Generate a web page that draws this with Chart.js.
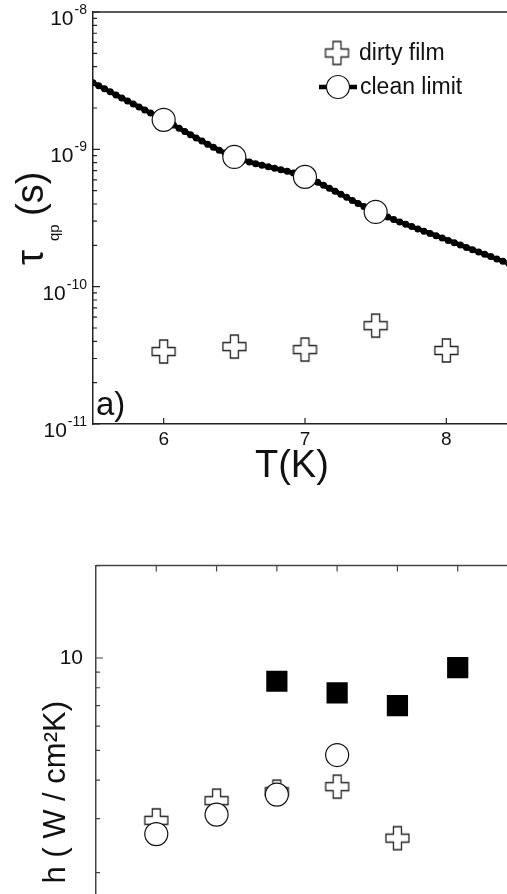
<!DOCTYPE html>
<html>
<head>
<meta charset="utf-8">
<script src="https://cdn.jsdelivr.net/npm/chart.js@4.4.1/dist/chart.umd.min.js"></script>
<style>
  html, body { margin: 0; padding: 0; background: #fff; overflow: hidden; }
  #wrap { position: relative; width: 560px; height: 1100px; overflow: hidden; }
  .box { position: absolute; left: 0; width: 520px; }
  #topBox { top: 0; height: 500px; }
  #botBox { top: 540px; height: 540px; }
</style>
</head>
<body>
<div id="wrap">
  <div class="box" id="topBox"><canvas id="topChart"></canvas></div>
  <div class="box" id="botBox"><canvas id="botChart"></canvas></div>
</div>
<script>
// panel a) : tau_qp against temperature
const tempDirty = [6, 6.5, 7, 7.5, 8];
const tauDirty = [3.37e-11, 3.66e-11, 3.48e-11, 5.2e-11, 3.43e-11];
const tempClean = [6, 6.5, 7, 7.5];
const tauClean = [1.64e-9, 8.8e-10, 6.3e-10, 3.5e-10];
const tempCurve = [5.5, 6, 6.5, 7, 7.5, 8, 8.5];
const tauCurve = [3.05e-9, 1.64e-9, 8.8e-10, 6.3e-10, 3.5e-10, 2.2e-10, 1.4e-10];
const tauTicks = [1e-11, 1e-10, 1e-9, 1e-8];
const tempTicks = [6, 7, 8];

// lower panel : h
const sampleTicks = [1, 2, 3, 4, 5, 6];
const squareIdx = [3, 4, 5, 6];
const hSquares = [8.4, 7.7, 7.0, 9.3];
const circleIdx = [1, 2, 3, 4];
const hCircles = [2.67, 3.09, 3.59, 4.83];
const crossIdx = [1, 2, 3, 4, 5];
const hCrosses = [2.96, 3.43, 3.67, 3.81, 2.59];
const hTicks = [1, 10];

const FONT = '"Liberation Sans", Arial, Helvetica, sans-serif';

function pts(xs, ys) {
  return xs.map((x, i) => ({ x: x, y: ys[i] }));
}

// hollow "plus" marker
function plusImage(size, arm, color) {
  const c = document.createElement('canvas');
  c.width = size + 4; c.height = size + 4;
  const g = c.getContext('2d');
  const m = c.width / 2, h = size / 2, a = arm / 2;
  g.beginPath();
  g.moveTo(m - a, m - h); g.lineTo(m + a, m - h); g.lineTo(m + a, m - a);
  g.lineTo(m + h, m - a); g.lineTo(m + h, m + a); g.lineTo(m + a, m + a);
  g.lineTo(m + a, m + h); g.lineTo(m - a, m + h); g.lineTo(m - a, m + a);
  g.lineTo(m - h, m + a); g.lineTo(m - h, m - a); g.lineTo(m - a, m - a);
  g.closePath();
  g.fillStyle = '#fff'; g.fill();
  g.lineWidth = 1.3; g.strokeStyle = color; g.stroke();
  return c;
}
const plus = plusImage(23, 8, '#222');

// minor ticks of a log axis
function logMinor(scale, fn) {
  const lo = Math.floor(Math.log10(scale.min)), hi = Math.ceil(Math.log10(scale.max));
  for (let k = lo; k <= hi; k++) {
    for (let m = 1; m <= 9; m++) {
      const v = m * Math.pow(10, k);
      if (v < scale.min * 0.999 || v > scale.max * 1.001) continue;
      fn(scale.getPixelForValue(v), m === 1);
    }
  }
}

const topDecor = {
  id: 'topDecor',
  afterDraw(chart) {
    const { ctx, chartArea: a, scales: { x, y } } = chart;
    ctx.save();
    ctx.strokeStyle = '#222';
    ctx.lineWidth = 1.2;
    ctx.beginPath();
    logMinor(y, (py, major) => { ctx.moveTo(a.left, py); ctx.lineTo(a.left + (major ? 7 : 4), py); });
    tempTicks.forEach(t => {
      const px = x.getPixelForValue(t);
      ctx.moveTo(px, a.bottom); ctx.lineTo(px, a.bottom - 6);
    });
    ctx.stroke();
    ctx.lineWidth = 1.5;
    ctx.beginPath(); ctx.moveTo(a.left, a.top); ctx.lineTo(chart.width, a.top); ctx.stroke();

    // y tick labels 10^n with a raised exponent
    ctx.fillStyle = '#111';
    ctx.textAlign = 'right';
    ctx.textBaseline = 'alphabetic';
    tauTicks.forEach(v => {
      const py = y.getPixelForValue(v);
      const e = String(Math.round(Math.log10(v)));
      ctx.font = '14px ' + FONT;
      const we = ctx.measureText(e).width;
      ctx.fillText(e, a.left - 6, py + 2);
      ctx.font = '21px ' + FONT;
      ctx.fillText('10', a.left - 7 - we, py + 13);
    });

    // x title
    ctx.textAlign = 'left';
    ctx.font = '38px ' + FONT;
    ctx.fillText('T(K)', a.left + 162, a.bottom + 53);

    // y title: tau_qp (s)
    ctx.rotate(-Math.PI / 2);
    ctx.font = '38px ' + FONT;
    ctx.fillText('\u03C4', -265, 43);
    ctx.font = '15px ' + FONT;
    ctx.fillText('qp', -241, 59);
    ctx.font = '38px ' + FONT;
    ctx.fillText('(s)', -216, 43);
    ctx.setTransform(1, 0, 0, 1, 0, 0);

    // panel tag
    ctx.font = '33px ' + FONT;
    ctx.fillText('a)', a.left + 3, a.bottom - 9);

    // legend
    const lx = a.left + 244;
    ctx.drawImage(plus, lx - plus.width / 2, 53 - plus.height / 2);
    ctx.font = '23px ' + FONT;
    ctx.textBaseline = 'middle';
    ctx.fillText('dirty film', lx + 22, 54);
    ctx.strokeStyle = '#000';
    ctx.lineWidth = 4.5;
    ctx.beginPath(); ctx.moveTo(lx - 18, 87); ctx.lineTo(lx + 20, 87); ctx.stroke();
    ctx.beginPath(); ctx.arc(lx + 1, 87, 11.5, 0, Math.PI * 2);
    ctx.fillStyle = '#fff'; ctx.fill();
    ctx.lineWidth = 1.2; ctx.strokeStyle = '#111'; ctx.stroke();
    ctx.fillStyle = '#111';
    ctx.fillText('clean limit', lx + 23, 88);
    ctx.restore();
  }
};

new Chart(document.getElementById('topChart'), {
  type: 'scatter',
  data: {
    datasets: [
      { label: 'clean limit', data: pts(tempClean, tauClean), pointStyle: 'circle', pointRadius: 11.5,
        pointBackgroundColor: '#fff', pointBorderColor: '#111', pointBorderWidth: 1.2 },
      { label: 'dirty film', data: pts(tempDirty, tauDirty), pointStyle: plus },
      { label: 'clean limit beads', data: pts(tempCurve, tauCurve), showLine: true, pointRadius: 0,
        borderColor: '#000', borderWidth: 7, borderDash: [0, 6.5], borderCapStyle: 'round',
        cubicInterpolationMode: 'monotone' },
      { label: 'clean limit line', data: pts(tempCurve, tauCurve), showLine: true, pointRadius: 0,
        borderColor: '#000', borderWidth: 4.5, cubicInterpolationMode: 'monotone' }
    ]
  },
  options: {
    responsive: true,
    maintainAspectRatio: false,
    animation: false,
    events: [],
    layout: { autoPadding: false, padding: { top: 12, right: 3, left: 0, bottom: 0 } },
    plugins: { legend: { display: false }, tooltip: { enabled: false } },
    scales: {
      x: {
        type: 'linear', min: 5.5, max: 8.5,
        grid: { display: false, drawTicks: false },
        border: { color: '#222', width: 1.5 },
        afterBuildTicks: s => { s.ticks = tempTicks.map(v => ({ value: v })); },
        afterFit: s => { s.height = 76; },
        ticks: { font: { family: FONT, size: 19 }, color: '#111', padding: 4, maxRotation: 0 }
      },
      y: {
        type: 'logarithmic', min: 1e-11, max: 1e-8,
        grid: { display: false, drawTicks: false },
        border: { color: '#222', width: 1.5 },
        afterBuildTicks: s => { s.ticks = tauTicks.map(v => ({ value: v })); },
        afterFit: s => { s.width = 93; },
        ticks: { display: false }
      }
    }
  },
  plugins: [topDecor]
});

const botDecor = {
  id: 'botDecor',
  afterDraw(chart) {
    const { ctx, chartArea: a, scales: { x, y } } = chart;
    ctx.save();
    ctx.strokeStyle = '#444';
    ctx.lineWidth = 1.2;
    ctx.beginPath();
    logMinor(y, (py, major) => { ctx.moveTo(a.left, py); ctx.lineTo(a.left + (major ? 7 : 4), py); });
    sampleTicks.forEach(t => {
      const px = x.getPixelForValue(t);
      ctx.moveTo(px, a.top); ctx.lineTo(px, a.top + 6);
      ctx.moveTo(px, a.bottom); ctx.lineTo(px, a.bottom - 6);
    });
    ctx.stroke();
    ctx.lineWidth = 1.5;
    ctx.beginPath(); ctx.moveTo(a.left, a.top); ctx.lineTo(chart.width, a.top); ctx.stroke();
    ctx.restore();
  }
};

new Chart(document.getElementById('botChart'), {
  type: 'scatter',
  data: {
    datasets: [
      { label: 'clean limit', data: pts(circleIdx, hCircles), pointStyle: 'circle', pointRadius: 11.5,
        pointBackgroundColor: '#fff', pointBorderColor: '#111', pointBorderWidth: 1.2 },
      { label: 'dirty film', data: pts(crossIdx, hCrosses), pointStyle: plus },
      { label: 'measured', data: pts(squareIdx, hSquares), pointStyle: 'rect', pointRadius: 15,
        pointBackgroundColor: '#000', pointBorderColor: '#000', pointBorderWidth: 0 }
    ]
  },
  options: {
    responsive: true,
    maintainAspectRatio: false,
    animation: false,
    events: [],
    layout: { autoPadding: false, padding: { top: 21, right: 2, left: 0, bottom: 0 } },
    plugins: { legend: { display: false }, tooltip: { enabled: false } },
    scales: {
      x: {
        type: 'linear', min: 0, max: 7,
        grid: { display: false, drawTicks: false },
        border: { color: '#444', width: 1.5 },
        afterBuildTicks: s => { s.ticks = sampleTicks.map(v => ({ value: v })); },
        afterFit: s => { s.height = 61; },
        ticks: { display: false }
      },
      y: {
        type: 'logarithmic', min: 0.667, max: 20,
        grid: { display: false, drawTicks: false },
        border: { color: '#444', width: 1.5 },
        afterBuildTicks: s => { s.ticks = hTicks.map(v => ({ value: v })); },
        afterFit: s => { s.width = 96; },
        ticks: { font: { family: FONT, size: 21 }, color: '#111', padding: 13,
          callback: v => String(Math.round(v)) },
        title: { display: true, text: 'h ( W / cm\u00B2K)', font: { family: FONT, size: 31 }, color: '#111',
          padding: { top: 38, bottom: 0 } }
      }
    }
  },
  plugins: [botDecor]
});
</script>
</body>
</html>
